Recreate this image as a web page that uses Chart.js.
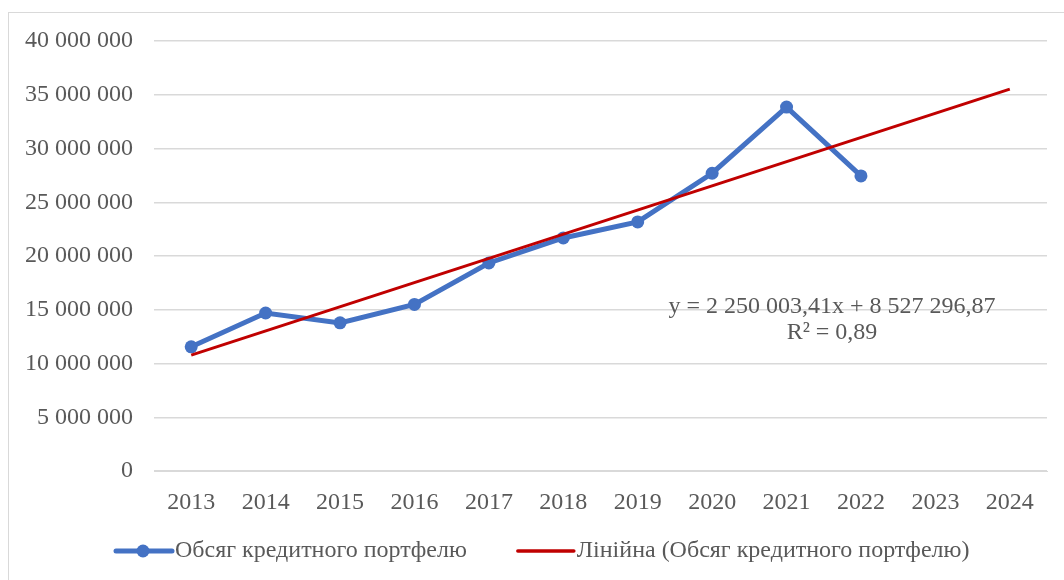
<!DOCTYPE html>
<html>
<head>
<meta charset="utf-8">
<script src="https://cdn.jsdelivr.net/npm/chart.js@4.4.1/dist/chart.umd.min.js"></script>
<style>
    html, body { margin: 0; padding: 0; background: #fff; overflow: hidden; }
    #wrap { position: relative; width: 1064px; height: 580px; }
    #frame { position: absolute; left: 8px; top: 12px; width: 1080px; height: 600px;
             border: 1px solid #d9d9d9; pointer-events: none; }
</style>
</head>
<body>
<div id="wrap">
    <canvas id="credit-chart" width="1064" height="580"></canvas>
    <div id="frame"></div>
</div>
<script>
// --- Дані ---
const years = ['2013', '2014', '2015', '2016', '2017', '2018', '2019', '2020', '2021', '2022', '2023', '2024'];
const portfolio = [11550000, 14700000, 13780000, 15500000, 19350000, 21680000, 23170000, 27700000, 33850000, 27450000, null, null];
// лінія тренду: початок 2013 і кінець 2024, як на рисунку
const trend = [10777300, null, null, null, null, null, null, null, null, null, null, 35527338];
const trendLabel = ['y = 2 250 003,41x + 8 527 296,87', 'R² = 0,89'];
const seriesNames = ['Обсяг кредитного портфелю', 'Лінійна (Обсяг кредитного портфелю)'];

const FONT = "'Liberation Serif', 'Times New Roman', serif";
const SIZE = 24;
const TEXT = '#595959';
const BLUE = '#4472C4';
const RED = '#C00000';

const fmt = (v) => String(v).replace(/\B(?=(\d{3})+(?!\d))/g, ' ');

// --- Легенда і підпис тренду ---
const extras = {
    id: 'extras',
    afterDraw(chart) {
        const ctx = chart.ctx;
        const area = chart.chartArea;
        ctx.save();
        ctx.font = SIZE + 'px ' + FONT;
        ctx.fillStyle = TEXT;
        ctx.textAlign = 'center';
        ctx.textBaseline = 'middle';
        ctx.fillText(trendLabel[0], 832, 307);
        ctx.fillText(trendLabel[1], 832, 333);

        // легенда
        const ly = 551;
        let x = area.left - 38;
        ctx.textAlign = 'left';
        chart.data.datasets.forEach((ds, i) => {
            ctx.strokeStyle = ds.borderColor;
            ctx.lineWidth = i === 0 ? 5 : 3.5;
            ctx.lineCap = 'round';
            ctx.beginPath();
            ctx.moveTo(x, ly);
            ctx.lineTo(x + 56, ly);
            ctx.stroke();
            if (i === 0) {
                ctx.fillStyle = ds.backgroundColor;
                ctx.beginPath();
                ctx.arc(x + 27, ly, 6.5, 0, Math.PI * 2);
                ctx.fill();
            }
            ctx.fillStyle = TEXT;
            ctx.fillText(ds.label, x + 59, ly);
            x += 59 + ctx.measureText(ds.label).width + 51;
        });
        ctx.restore();
    }
};

const ctx = document.getElementById('credit-chart').getContext('2d');
new Chart(ctx, {
    type: 'line',
    data: {
        labels: years,
        datasets: [{
            label: seriesNames[0],
            data: portfolio,
            borderColor: BLUE,
            backgroundColor: BLUE,
            borderWidth: 5,
            pointRadius: 6.5,
            pointHoverRadius: 6.5,
            pointBorderWidth: 0,
            tension: 0,
            order: 2
        }, {
            label: seriesNames[1],
            data: trend,
            borderColor: RED,
            backgroundColor: RED,
            borderWidth: 3,
            pointRadius: 0,
            spanGaps: true,
            tension: 0,
            order: 1
        }]
    },
    options: {
        responsive: false,
        animation: false,
        layout: { padding: { left: 0, right: 17, top: 41, bottom: 54 } },
        plugins: {
            legend: { display: false },
            tooltip: { enabled: false }
        },
        scales: {
            x: {
                offset: true,
                grid: { display: false, drawTicks: false },
                border: { display: true, color: '#d9d9d9', width: 1 },
                ticks: { color: TEXT, font: { family: FONT, size: SIZE }, padding: 17, maxRotation: 0, autoSkip: false },
                afterFit: (scale) => { scale.height = 55; }
            },
            y: {
                min: 0,
                max: 40000000,
                grid: { color: '#d9d9d9', lineWidth: 1.5, drawTicks: false },
                border: { display: false },
                ticks: {
                    stepSize: 5000000,
                    color: TEXT,
                    font: { family: FONT, size: SIZE },
                    padding: 21,
                    callback: (value) => fmt(value)
                },
                afterFit: (scale) => { scale.width = 154; }
            }
        }
    },
    plugins: [extras]
});
</script>
</body>
</html>
